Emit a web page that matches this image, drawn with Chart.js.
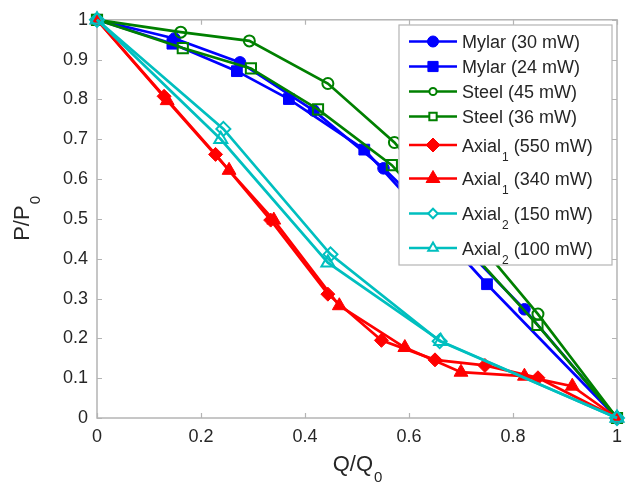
<!DOCTYPE html>
<html>
<head>
<meta charset="utf-8">
<title>P/P0 vs Q/Q0</title>
<script src="https://cdn.jsdelivr.net/npm/chart.js@4.4.0/dist/chart.umd.min.js"></script>
<style>
  html, body { margin: 0; padding: 0; background: #fff; }
  canvas { display: block; }
</style>
</head>
<body>
<canvas id="flow-chart" width="630" height="485"></canvas>
<script>
// normalised flow (Q/Q0) and pressure (P/P0) for each pump
const mylar30Q = [0, 0.149, 0.275, 0.417, 0.551, 0.69, 0.822, 1];
const mylar30P = [1, 0.953, 0.893, 0.772, 0.627, 0.45, 0.273, 0];
const mylar24Q = [0, 0.145, 0.269, 0.369, 0.514, 0.750, 1];
const mylar24P = [1, 0.940, 0.871, 0.801, 0.674, 0.336, 0];
const steel45Q = [0, 0.161, 0.293, 0.444, 0.572, 0.848, 1];
const steel45P = [1, 0.969, 0.947, 0.840, 0.692, 0.261, 0];
const steel36Q = [0, 0.165, 0.296, 0.425, 0.567, 0.847, 1];
const steel36P = [1, 0.929, 0.878, 0.775, 0.635, 0.234, 0];
const axial1550Q = [0, 0.129, 0.228, 0.334, 0.444, 0.547, 0.650, 0.746, 0.848, 1];
const axial1550P = [1, 0.808, 0.662, 0.497, 0.311, 0.195, 0.146, 0.132, 0.101, 0];
const axial1340Q = [0, 0.135, 0.254, 0.340, 0.466, 0.592, 0.700, 0.822, 0.914, 1];
const axial1340P = [1, 0.797, 0.622, 0.497, 0.282, 0.177, 0.115, 0.105, 0.080, 0];
const axial2150Q = [0, 0.243, 0.449, 0.659, 1];
const axial2150P = [1, 0.726, 0.411, 0.193, 0];
const axial2100Q = [0, 0.238, 0.444, 0.661, 1];
const axial2100P = [1, 0.700, 0.390, 0.193, 0];

const xTicks = [0, 0.2, 0.4, 0.6, 0.8, 1];
const yTicks = [0, 0.1, 0.2, 0.3, 0.4, 0.5, 0.6, 0.7, 0.8, 0.9, 1];

const FONT = "'Liberation Sans', Arial, Helvetica, sans-serif";
const TEXT = "#262626";
const AXIS = "#b4b4b4";
const BLUE = "#0000ff", GREEN = "#008000", RED = "#ff0000", CYAN = "#00bfbf";

function series(label, q, p, color, style, filled, radius, legendRadius) {
  return {
    label: label,
    data: q.map((x, i) => ({ x: x, y: p[i] })),
    showLine: true,
    borderColor: color,
    backgroundColor: color,
    borderWidth: 2.7,
    pointStyle: style,
    pointRadius: radius,
    pointHoverRadius: radius,
    pointBackgroundColor: filled ? color : "rgba(0,0,0,0)",
    pointBorderColor: color,
    pointBorderWidth: filled ? 1 : 2,
    legendRadius: legendRadius,
    filled: filled,
    clip: false,
  };
}

const datasets = [
  series("Mylar (30 mW)", mylar30Q, mylar30P, BLUE, "circle", true, 5.8, 5.5),
  series("Mylar (24 mW)", mylar24Q, mylar24P, BLUE, "rect", true, 7.6, 7.2),
  series("Steel (45 mW)", steel45Q, steel45P, GREEN, "circle", false, 5.5, 3.6),
  series("Steel (36 mW)", steel36Q, steel36P, GREEN, "rect", false, 7.2, 5.2),
  series("Axial_1 (550 mW)", axial1550Q, axial1550P, RED, "rectRot", true, 7, 7),
  series("Axial_1 (340 mW)", axial1340Q, axial1340P, RED, "triangle", true, 8, 8),
  series("Axial_2 (150 mW)", axial2150Q, axial2150P, CYAN, "rectRot", false, 7, 4.8),
  series("Axial_2 (100 mW)", axial2100Q, axial2100P, CYAN, "triangle", false, 7.5, 5.5),
];
// later series sit on top
datasets.forEach((d, i) => { d.order = datasets.length - i; });

// draws text where "_c" puts c as a subscript
function richWidth(ctx, text, size) {
  let w = 0;
  text.split(/(_.)/).forEach((part) => {
    if (!part) return;
    if (part[0] === "_") {
      ctx.font = Math.round(size * 0.68) + "px " + FONT;
      w += ctx.measureText(part.slice(1)).width;
    } else {
      ctx.font = size + "px " + FONT;
      w += ctx.measureText(part).width;
    }
  });
  return w;
}

function drawRich(ctx, text, x, y, size) {
  ctx.textBaseline = "alphabetic";
  ctx.textAlign = "left";
  text.split(/(_.)/).forEach((part) => {
    if (!part) return;
    if (part[0] === "_") {
      ctx.font = Math.round(size * 0.68) + "px " + FONT;
      ctx.fillText(part.slice(1), x + 1, y + size * 0.5);
      x += ctx.measureText(part.slice(1)).width + 1;
    } else {
      ctx.font = size + "px " + FONT;
      ctx.fillText(part, x, y);
      x += ctx.measureText(part).width;
    }
  });
}

// box around the plot with inward tick marks on all sides
const axesBox = {
  id: "axesBox",
  beforeDatasetsDraw(chart) {
    const { ctx, chartArea: a, scales } = chart;
    const len = 5;
    ctx.save();
    ctx.strokeStyle = AXIS;
    ctx.lineWidth = 1.2;
    ctx.beginPath();
    xTicks.forEach((v) => {
      const px = Math.round(scales.x.getPixelForValue(v)) + 0.5;
      ctx.moveTo(px, a.bottom); ctx.lineTo(px, a.bottom - len);
      ctx.moveTo(px, a.top); ctx.lineTo(px, a.top + len);
    });
    yTicks.forEach((v) => {
      const py = Math.round(scales.y.getPixelForValue(v)) + 0.5;
      ctx.moveTo(a.left, py); ctx.lineTo(a.left + len, py);
      ctx.moveTo(a.right, py); ctx.lineTo(a.right - len, py);
    });
    ctx.stroke();
    ctx.lineWidth = 1.5;
    ctx.strokeRect(a.left, a.top, a.right - a.left, a.bottom - a.top);
    ctx.restore();
  },
};

// axis titles and the boxed legend, drawn over the lines
const overlay = {
  id: "overlay",
  afterDraw(chart) {
    const { ctx, chartArea: a } = chart;
    ctx.save();
    ctx.fillStyle = TEXT;

    const xTitle = "Q/Q_0";
    const xw = richWidth(ctx, xTitle, 22);
    drawRich(ctx, xTitle, (a.left + a.right) / 2 - xw / 2, 471, 22);

    const yTitle = "P/P_0";
    const yw = richWidth(ctx, yTitle, 22);
    ctx.save();
    ctx.translate(29, (a.top + a.bottom) / 2);
    ctx.rotate(-Math.PI / 2);
    drawRich(ctx, yTitle, -yw / 2, 0, 22);
    ctx.restore();

    const box = { left: 399, top: 25, right: 612, bottom: 265 };
    ctx.fillStyle = "#ffffff";
    ctx.fillRect(box.left, box.top, box.right - box.left, box.bottom - box.top);
    ctx.strokeStyle = AXIS;
    ctx.lineWidth = 1.2;
    ctx.strokeRect(box.left, box.top, box.right - box.left, box.bottom - box.top);

    const rows = [41.5, 66.5, 91.5, 116.5, 145, 178.5, 213.5, 248];
    chart.data.datasets.forEach((d, i) => {
      const y = rows[i];
      ctx.strokeStyle = d.borderColor;
      ctx.lineWidth = 2.7;
      ctx.beginPath();
      ctx.moveTo(409, y);
      ctx.lineTo(457, y);
      ctx.stroke();
      ctx.fillStyle = d.filled ? d.borderColor : "#ffffff";
      ctx.lineWidth = d.pointBorderWidth;
      Chart.helpers.drawPoint(ctx, {
        pointStyle: d.pointStyle,
        radius: d.legendRadius,
        rotation: 0,
        borderWidth: d.pointBorderWidth,
      }, 433, y);
      ctx.fillStyle = TEXT;
      drawRich(ctx, d.label, 462, y + 6.5, 18);
    });
    ctx.restore();
  },
};

const tickFmt = (v) => String(Number(v.toFixed(1)));

new Chart(document.getElementById("flow-chart").getContext("2d"), {
  type: "scatter",
  data: { datasets: datasets },
  options: {
    responsive: false,
    animation: false,
    events: [],
    layout: { padding: { top: 17, right: 10, left: 0, bottom: 0 } },
    plugins: {
      legend: { display: false },
      tooltip: { enabled: false },
    },
    scales: {
      x: {
        type: "linear",
        min: 0,
        max: 1,
        afterBuildTicks: (scale) => { scale.ticks = xTicks.map((v) => ({ value: v })); },
        afterFit: (scale) => { scale.height = 67; },
        grid: { display: false, drawTicks: false },
        border: { display: false },
        ticks: { font: { family: FONT, size: 18 }, color: TEXT, padding: 8, callback: tickFmt },
      },
      y: {
        type: "linear",
        min: 0,
        max: 1,
        afterBuildTicks: (scale) => { scale.ticks = yTicks.map((v) => ({ value: v })); },
        afterFit: (scale) => { scale.width = 97; },
        grid: { display: false, drawTicks: false },
        border: { display: false },
        ticks: { font: { family: FONT, size: 18 }, color: TEXT, padding: 9, callback: tickFmt },
      },
    },
  },
  plugins: [axesBox, overlay],
});
</script>
</body>
</html>
